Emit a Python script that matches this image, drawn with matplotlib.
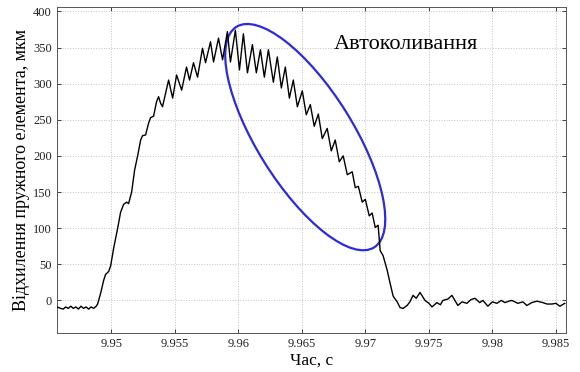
import matplotlib
matplotlib.use("Agg")
import matplotlib.pyplot as plt
from matplotlib.patches import Ellipse
from matplotlib.transforms import ScaledTranslation

# Signal (time, s / deflection, um)
t_base = [9.9457, 9.9460, 9.9462, 9.9464, 9.9466, 9.9468, 9.9470, 9.9472,
          9.9474, 9.9476, 9.9478, 9.9480, 9.9482, 9.9484, 9.9486, 9.9488]
y_base = [-9, -11, -12, -9, -11, -8, -11, -9, -12, -8, -11, -9, -12, -9, -11, -8]

t_rise = [9.94891, 9.94915, 9.94939, 9.94954, 9.94978, 9.94994, 9.95017, 9.95049,
          9.95072, 9.95096, 9.95119, 9.95135, 9.95159, 9.95182, 9.95206, 9.95230,
          9.95245, 9.95269, 9.95292, 9.95308, 9.95332, 9.95355, 9.95371, 9.95387,
          9.95402]
y_rise = [-5, 10, 28, 36, 40, 48, 72, 100, 122, 133, 136, 134, 150, 180, 200, 222,
          228, 229, 245, 253, 255, 275, 282, 273, 268]

# self-oscillation: alternating peaks and troughs
t_osc = [9.95450, 9.95482, 9.95513, 9.95553, 9.95591, 9.95615, 9.95646, 9.95678,
         9.95717, 9.95741, 9.95780, 9.95804, 9.95843, 9.95875, 9.95913, 9.95937,
         9.95976, 9.96008, 9.96039, 9.96071, 9.96110, 9.96141, 9.96173, 9.96204,
         9.96236, 9.96275, 9.96306, 9.96338, 9.96369, 9.96401, 9.96432, 9.96464,
         9.96503, 9.96534, 9.96566, 9.96597, 9.96629, 9.96660, 9.96699, 9.96731,
         9.96762, 9.96794, 9.96825, 9.96857, 9.96896, 9.96920, 9.96944, 9.96975,
         9.96999, 9.97030, 9.97053, 9.97077, 9.97100]
y_osc = [305, 280, 312, 291, 323, 305, 329, 309,
         349, 329, 358, 330, 363, 333, 372, 330,
         374, 319, 369, 315, 354, 315, 347, 309,
         347, 302, 337, 294, 323, 280, 305, 268,
         290, 257, 271, 241, 258, 224, 238, 207,
         222, 192, 200, 174, 178, 156, 158, 136,
         140, 117, 121, 101, 104]

t_tail = [9.97116, 9.97139, 9.97171, 9.97194, 9.97218, 9.97250, 9.97273, 9.97297,
          9.97328, 9.97350, 9.97375, 9.97400, 9.97430, 9.97469, 9.97500, 9.97524,
          9.97563, 9.97590, 9.97610, 9.97650, 9.97681, 9.97728, 9.97760, 9.97799,
          9.97830, 9.97862, 9.97900, 9.97925, 9.97964, 9.98000, 9.98035, 9.98070,
          9.98098, 9.98130, 9.98153, 9.98200, 9.98240, 9.98271, 9.98310, 9.98350,
          9.98397, 9.98430, 9.98468, 9.98500, 9.98531, 9.98570]
y_tail = [69, 62, 42, 24, 6, -2, -10, -11,
          -7, -2, 7, 3, 11, 0, -4, -9,
          -3, -6, 0, 2, 7, -7, -2, -4,
          1, 3, -3, 0, -8, -2, -4, 0,
          -3, -1, 0, -4, -2, -7, -3, -1,
          -3, -5, -5, -4, -8, -4]

t_all = t_base + t_rise + t_osc + t_tail
y_all = y_base + y_rise + y_osc + y_tail

x_ticks = [9.95, 9.955, 9.96, 9.965, 9.97, 9.975, 9.98, 9.985]
x_labels = ["9.95", "9.955", "9.96", "9.965", "9.97", "9.975", "9.98", "9.985"]
y_ticks = [0, 50, 100, 150, 200, 250, 300, 350, 400]

plt.rcParams['font.family'] = ['Liberation Serif', 'DejaVu Serif']

fig = plt.figure(figsize=(5.8, 3.72), dpi=100)
ax = fig.add_axes([0.098, 0.105, 0.878, 0.876])

ax.plot(t_all, y_all, color='black', linewidth=1.0, solid_joinstyle='round', zorder=3)

ax.set_xlim(9.9457, 9.9858)
ax.set_ylim(-45, 406)
ax.set_xticks(x_ticks)
ax.set_xticklabels(x_labels)
ax.set_yticks(y_ticks)
ax.tick_params(direction='in', length=3, width=0.6, labelsize=9, colors='#222222',
               top=True, right=True)
for s in ax.spines.values():
    s.set_color('#555555')
    s.set_linewidth(0.7)
ax.grid(True, linestyle=':', color='#c4c4c4', linewidth=0.7)

ax.set_xlabel('Час, с', fontsize=12.5, labelpad=2)
ax.set_ylabel('Відхилення пружного елемента, мкм', fontsize=13, labelpad=2)

# blue ellipse marking the self-oscillations (sized in inches so the angle holds)
ell_tr = fig.dpi_scale_trans + ScaledTranslation(9.96526, 226, ax.transData)
ax.add_patch(Ellipse((0, 0), 2.6, 0.96, angle=-58, fill=False, zorder=2,
                     edgecolor='#2a2ae0', linewidth=1.6, transform=ell_tr))
ax.text(9.96752, 354, 'Автоколивання', fontsize=16, ha='left', va='center')

fig.savefig('out.png', dpi=100)
